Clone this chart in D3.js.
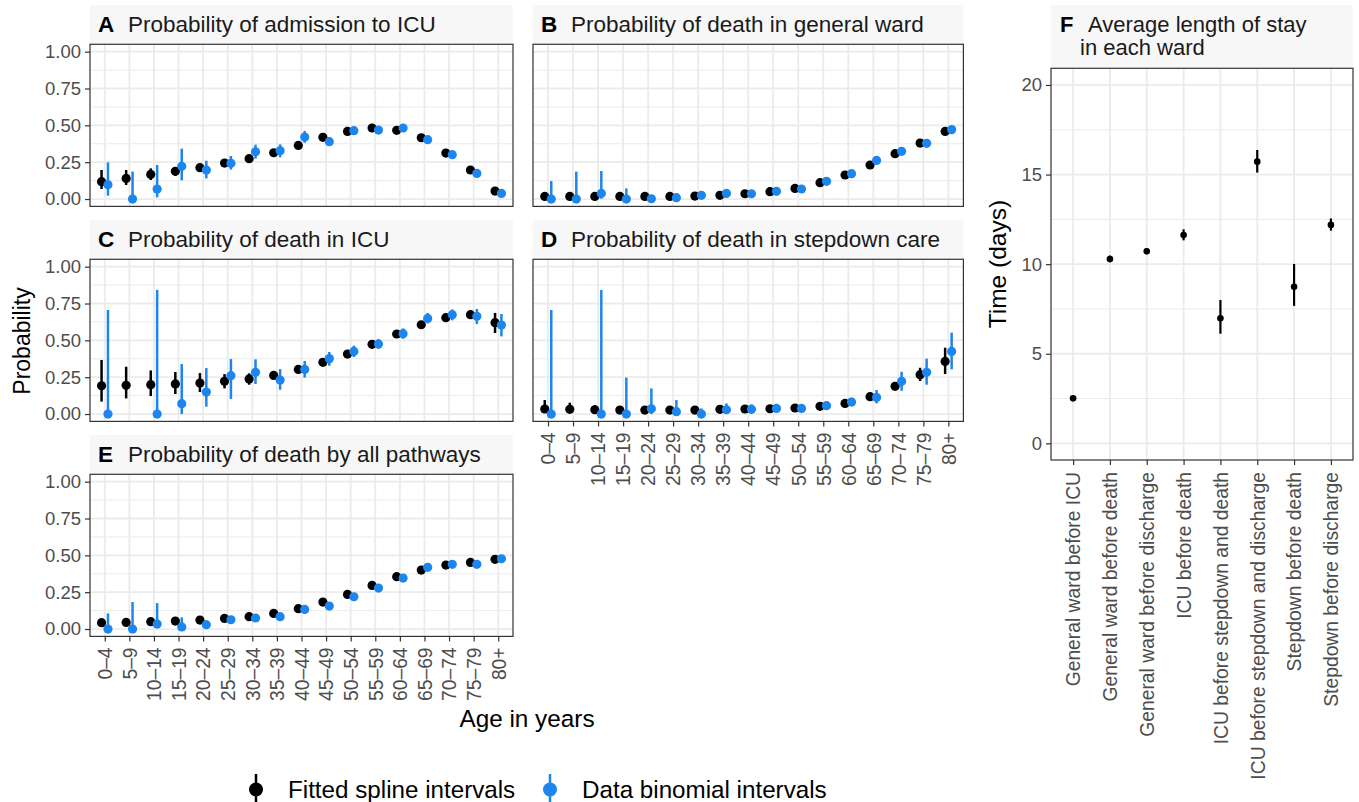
<!DOCTYPE html>
<html>
<head>
<meta charset="utf-8">
<script src="https://cdn.jsdelivr.net/npm/d3@7"></script>
<style>
  html, body { margin: 0; padding: 0; background: #fff; }
  svg { display: block; font-family: "Liberation Sans", Arial, Helvetica, sans-serif; }
</style>
</head>
<body>
<svg id="chart" width="1359" height="802"></svg>
<script>
// ---------------- DATA ----------------
const ageGroups = ["0–4","5–9","10–14","15–19","20–24","25–29","30–34","35–39","40–44","45–49","50–54","55–59","60–64","65–69","70–74","75–79","80+"];
const probTicks = [0, 0.25, 0.5, 0.75, 1];
const probMinor = [0.125, 0.375, 0.625, 0.875];

// A: Probability of admission to ICU
const aFitMid = [0.118,0.140,0.167,0.188,0.213,0.244,0.274,0.314,0.364,0.419,0.459,0.482,0.466,0.416,0.312,0.197,0.054];
const aFitLo  = [0.068,0.095,0.129,0.158,0.186,0.219,0.253,0.296,0.346,0.401,0.441,0.464,0.448,0.398,0.296,0.183,0.045];
const aFitHi  = [0.197,0.197,0.208,0.213,0.235,0.265,0.294,0.333,0.382,0.437,0.477,0.500,0.484,0.434,0.328,0.211,0.063];
const aDatMid = [0.097,0.000,0.068,0.222,0.197,0.242,0.321,0.328,0.421,0.389,0.464,0.468,0.482,0.403,0.301,0.174,0.038];
const aDatLo  = [0.023,0.000,0.011,0.127,0.140,0.200,0.274,0.283,0.382,0.360,0.446,0.450,0.464,0.385,0.283,0.158,0.027];
const aDatHi  = [0.249,0.186,0.231,0.342,0.260,0.292,0.369,0.371,0.462,0.419,0.482,0.486,0.500,0.421,0.319,0.190,0.049];

// B: Probability of death in general ward
const bFitMid = [0.018,0.018,0.018,0.018,0.018,0.018,0.020,0.025,0.036,0.050,0.072,0.111,0.163,0.231,0.308,0.380,0.459];
const bFitLo  = [0.012,0.012,0.012,0.012,0.013,0.014,0.016,0.021,0.032,0.045,0.067,0.105,0.157,0.225,0.301,0.373,0.451];
const bFitHi  = [0.026,0.025,0.024,0.024,0.023,0.022,0.024,0.029,0.040,0.055,0.077,0.117,0.169,0.237,0.315,0.387,0.467];
const bDatMid = [0.000,0.000,0.038,0.000,0.002,0.009,0.025,0.038,0.036,0.052,0.068,0.120,0.172,0.262,0.324,0.378,0.471];
const bDatLo  = [0.000,0.000,0.002,0.000,0.000,0.002,0.015,0.028,0.028,0.044,0.060,0.112,0.164,0.252,0.314,0.368,0.461];
const bDatHi  = [0.122,0.186,0.190,0.072,0.020,0.025,0.038,0.050,0.046,0.060,0.076,0.128,0.180,0.272,0.334,0.388,0.481];

// C: Probability of death in ICU
const cFitMid = [0.192,0.195,0.199,0.204,0.210,0.222,0.238,0.262,0.303,0.351,0.407,0.473,0.543,0.606,0.654,0.674,0.620];
const cFitLo  = [0.084,0.106,0.122,0.136,0.149,0.174,0.199,0.238,0.283,0.331,0.389,0.455,0.525,0.586,0.632,0.652,0.550];
const cFitHi  = [0.367,0.321,0.296,0.285,0.278,0.271,0.276,0.287,0.321,0.371,0.425,0.491,0.561,0.626,0.676,0.694,0.686];
const cDatMid = [0.000,null,0.000,0.070,0.149,0.260,0.283,0.231,0.303,0.376,0.425,0.475,0.545,0.649,0.674,0.663,0.604];
const cDatLo  = [0.000,null,0.000,0.000,0.050,0.102,0.204,0.165,0.247,0.328,0.387,0.443,0.511,0.615,0.636,0.611,0.527];
const cDatHi  = [0.706,null,0.842,0.339,0.312,0.373,0.371,0.305,0.360,0.421,0.464,0.509,0.581,0.686,0.710,0.713,0.679];

// D: Probability of death in stepdown care
const dFitMid = [0.034,0.032,0.029,0.027,0.027,0.027,0.027,0.032,0.034,0.036,0.041,0.052,0.072,0.118,0.188,0.267,0.357];
const dFitLo  = [0.011,0.011,0.009,0.009,0.011,0.015,0.017,0.024,0.027,0.030,0.035,0.046,0.061,0.102,0.168,0.224,0.271];
const dFitHi  = [0.095,0.077,0.061,0.050,0.045,0.040,0.038,0.041,0.042,0.043,0.048,0.059,0.083,0.134,0.208,0.314,0.450];
const dDatMid = [0.000,null,0.000,0.000,0.036,0.016,0.000,0.029,0.032,0.038,0.038,0.057,0.081,0.113,0.222,0.283,0.425];
const dDatLo  = [0.000,null,0.000,0.000,0.000,0.000,0.000,0.000,0.005,0.016,0.023,0.039,0.057,0.072,0.158,0.199,0.303];
const dDatHi  = [0.706,null,0.842,0.247,0.174,0.095,0.038,0.072,0.066,0.061,0.054,0.072,0.111,0.163,0.287,0.376,0.552];

// E: Probability of death by all pathways
const eFitMid = [0.043,0.045,0.050,0.054,0.061,0.072,0.084,0.106,0.138,0.183,0.235,0.296,0.355,0.400,0.434,0.452,0.473];
const eFitLo  = [0.025,0.033,0.040,0.046,0.054,0.066,0.078,0.100,0.132,0.177,0.229,0.290,0.349,0.394,0.428,0.446,0.467];
const eFitHi  = [0.068,0.060,0.062,0.063,0.069,0.079,0.090,0.112,0.144,0.189,0.241,0.302,0.361,0.406,0.440,0.458,0.479];
const eDatMid = [0.000,0.000,0.034,0.014,0.029,0.063,0.075,0.084,0.133,0.156,0.219,0.278,0.346,0.419,0.439,0.439,0.477];
const eDatLo  = [0.000,0.000,0.005,0.000,0.007,0.045,0.059,0.068,0.119,0.143,0.205,0.264,0.332,0.405,0.425,0.425,0.463];
const eDatHi  = [0.106,0.183,0.176,0.079,0.060,0.085,0.092,0.100,0.149,0.171,0.234,0.292,0.360,0.433,0.453,0.453,0.491];

// F: Average length of stay in each ward
const wards = ["General ward before ICU","General ward before death","General ward before discharge","ICU before death","ICU before stepdown and death","ICU before stepdown and discharge","Stepdown before death","Stepdown before discharge"];
const stayMean = [2.51,10.29,10.72,11.63,6.98,15.72,8.74,12.19];
const stayLo   = [2.44,10.10,10.55,11.33,6.12,15.11,7.67,11.87];
const stayHi   = [2.58,10.48,10.90,11.94,8.00,16.37,10.01,12.55];
const stayTicks = [0, 5, 10, 15, 20];
const stayMinor = [2.5, 7.5, 12.5, 17.5];

const legendLabels = ["Fitted spline intervals", "Data binomial intervals"];

// ---------------- STYLE ----------------
const BLUE = "#1C86EE";
const FIT = "#000000";
const GRID = "#EBEBEB";
const STRIP = "#F7F7F7";
const BORDER = "#333333";
const TICKTXT = "#4D4D4D";

const svg = d3.select("#chart");

const panels = [
  {tag:"A", title:"Probability of admission to ICU", x0:90, x1:513, y0:44.3, y1:206.4, yAxis:true, xAxis:false,
   fit:[aFitMid,aFitLo,aFitHi], dat:[aDatMid,aDatLo,aDatHi]},
  {tag:"B", title:"Probability of death in general ward", x0:533, x1:963.4, y0:44.3, y1:206.4, yAxis:false, xAxis:false,
   fit:[bFitMid,bFitLo,bFitHi], dat:[bDatMid,bDatLo,bDatHi]},
  {tag:"C", title:"Probability of death in ICU", x0:90, x1:513, y0:259.3, y1:421.4, yAxis:true, xAxis:false,
   fit:[cFitMid,cFitLo,cFitHi], dat:[cDatMid,cDatLo,cDatHi]},
  {tag:"D", title:"Probability of death in stepdown care", x0:533, x1:963.4, y0:259.3, y1:421.4, yAxis:false, xAxis:true,
   fit:[dFitMid,dFitLo,dFitHi], dat:[dDatMid,dDatLo,dDatHi]},
  {tag:"E", title:"Probability of death by all pathways", x0:90, x1:513, y0:474.3, y1:636.4, yAxis:true, xAxis:true,
   fit:[eFitMid,eFitLo,eFitHi], dat:[eDatMid,eDatLo,eDatHi]}
];

function drawStrip(x0, x1, top, bottom) {
  svg.append("rect").attr("x", x0).attr("y", top).attr("width", x1 - x0).attr("height", bottom - top)
    .attr("fill", STRIP);
}

panels.forEach(p => {
  const x = d3.scalePoint().domain(ageGroups).range([p.x0, p.x1]).padding(0.6);
  const y = d3.scaleLinear().domain([-0.05, 1.05]).range([p.y1, p.y0]);
  const dodge = x.step() * 0.13;

  drawStrip(p.x0, p.x1, p.y0 - 39.3, p.y0);
  const st = svg.append("text").attr("x", p.x0 + 8).attr("y", p.y0 - 12.5)
    .attr("font-size", 22.5).attr("fill", "#1A1A1A");
  st.append("tspan").attr("font-weight", "bold").attr("fill", "#000").text(p.tag);
  st.append("tspan").attr("x", p.x0 + 38).text(p.title);

  const g = svg.append("g");
  g.append("rect").attr("x", p.x0).attr("y", p.y0).attr("width", p.x1 - p.x0).attr("height", p.y1 - p.y0).attr("fill", "#fff");
  g.selectAll(".minor").data(probMinor).join("line")
    .attr("x1", p.x0).attr("x2", p.x1).attr("y1", d => y(d)).attr("y2", d => y(d))
    .attr("stroke", GRID).attr("stroke-width", 1);
  g.selectAll(".major").data(probTicks).join("line")
    .attr("x1", p.x0).attr("x2", p.x1).attr("y1", d => y(d)).attr("y2", d => y(d))
    .attr("stroke", GRID).attr("stroke-width", 1.8);
  g.selectAll(".vmajor").data(ageGroups).join("line")
    .attr("x1", d => x(d)).attr("x2", d => x(d)).attr("y1", p.y0).attr("y2", p.y1)
    .attr("stroke", GRID).attr("stroke-width", 1.8);

  const fitRows = ageGroups.map((a, i) => ({a, m: p.fit[0][i], lo: p.fit[1][i], hi: p.fit[2][i]}));
  const datRows = ageGroups.map((a, i) => ({a, m: p.dat[0][i], lo: p.dat[1][i], hi: p.dat[2][i]})).filter(d => d.m !== null);

  g.selectAll(".fitbar").data(fitRows).join("line")
    .attr("x1", d => x(d.a) - dodge).attr("x2", d => x(d.a) - dodge)
    .attr("y1", d => y(d.lo)).attr("y2", d => y(d.hi))
    .attr("stroke", FIT).attr("stroke-width", 2.5);
  g.selectAll(".fitpt").data(fitRows).join("circle")
    .attr("cx", d => x(d.a) - dodge).attr("cy", d => y(d.m)).attr("r", 4.6).attr("fill", FIT);
  g.selectAll(".datbar").data(datRows).join("line")
    .attr("x1", d => x(d.a) + dodge).attr("x2", d => x(d.a) + dodge)
    .attr("y1", d => y(d.lo)).attr("y2", d => y(d.hi))
    .attr("stroke", BLUE).attr("stroke-width", 2.5);
  g.selectAll(".datpt").data(datRows).join("circle")
    .attr("cx", d => x(d.a) + dodge).attr("cy", d => y(d.m)).attr("r", 4.6).attr("fill", BLUE);

  g.append("rect").attr("x", p.x0).attr("y", p.y0).attr("width", p.x1 - p.x0).attr("height", p.y1 - p.y0)
    .attr("fill", "none").attr("stroke", BORDER).attr("stroke-width", 1.2);

  if (p.yAxis) {
    const ax = svg.append("g").attr("transform", `translate(${p.x0},0)`)
      .call(d3.axisLeft(y).tickValues(probTicks).tickFormat(d3.format(".2f")).tickSize(5).tickPadding(4));
    ax.select(".domain").remove();
    ax.selectAll(".tick line").attr("stroke", BORDER).attr("stroke-width", 1.2);
    ax.selectAll(".tick text").attr("font-size", 18.5).attr("fill", TICKTXT).attr("font-family", null);
  }
  if (p.xAxis) {
    const ax = svg.append("g").attr("transform", `translate(0,${p.y1})`)
      .call(d3.axisBottom(x).tickSize(5).tickPadding(6));
    ax.select(".domain").remove();
    ax.selectAll(".tick line").attr("stroke", BORDER).attr("stroke-width", 1.2);
    ax.selectAll(".tick text").attr("font-size", 19.3).attr("fill", TICKTXT).attr("font-family", null)
      .attr("transform", "rotate(-90)").attr("text-anchor", "end")
      .attr("x", -11).attr("y", 0).attr("dy", "0.35em");
  }
});

// Axis titles for probability panels
svg.append("text").attr("transform", "translate(30,341) rotate(-90)").attr("text-anchor", "middle")
  .attr("font-size", 23).attr("fill", "#000").text("Probability");
svg.append("text").attr("x", 527).attr("y", 727).attr("text-anchor", "middle")
  .attr("font-size", 24.3).attr("fill", "#000").text("Age in years");

// ---------------- PANEL F ----------------
{
  const x0 = 1051, x1 = 1353, y0 = 68.3, y1 = 460;
  const x = d3.scalePoint().domain(wards).range([x0, x1]).padding(0.6);
  const y = d3.scaleLinear().domain([-0.93, 20.93]).range([y1, y0]);

  drawStrip(x0, x1, 5, y0);
  const t1 = svg.append("text").attr("x", x0 + 9).attr("y", 31.5).attr("font-size", 22).attr("fill", "#1A1A1A");
  t1.append("tspan").attr("font-weight", "bold").attr("fill", "#000").text("F");
  t1.append("tspan").attr("x", x0 + 37).text("Average length of stay");
  svg.append("text").attr("x", x0 + 29).attr("y", 55).attr("font-size", 22).attr("fill", "#1A1A1A").text("in each ward");

  const g = svg.append("g");
  g.append("rect").attr("x", x0).attr("y", y0).attr("width", x1 - x0).attr("height", y1 - y0).attr("fill", "#fff");
  g.selectAll(".minor").data(stayMinor).join("line")
    .attr("x1", x0).attr("x2", x1).attr("y1", d => y(d)).attr("y2", d => y(d))
    .attr("stroke", GRID).attr("stroke-width", 1);
  g.selectAll(".major").data(stayTicks).join("line")
    .attr("x1", x0).attr("x2", x1).attr("y1", d => y(d)).attr("y2", d => y(d))
    .attr("stroke", GRID).attr("stroke-width", 1.8);
  g.selectAll(".vmajor").data(wards).join("line")
    .attr("x1", d => x(d)).attr("x2", d => x(d)).attr("y1", y0).attr("y2", y1)
    .attr("stroke", GRID).attr("stroke-width", 1.8);

  const rows = wards.map((w, i) => ({w, m: stayMean[i], lo: stayLo[i], hi: stayHi[i]}));
  g.selectAll(".bar").data(rows).join("line")
    .attr("x1", d => x(d.w)).attr("x2", d => x(d.w)).attr("y1", d => y(d.lo)).attr("y2", d => y(d.hi))
    .attr("stroke", "#000").attr("stroke-width", 2.2);
  g.selectAll(".pt").data(rows).join("circle")
    .attr("cx", d => x(d.w)).attr("cy", d => y(d.m)).attr("r", 3.3).attr("fill", "#000");

  g.append("rect").attr("x", x0).attr("y", y0).attr("width", x1 - x0).attr("height", y1 - y0)
    .attr("fill", "none").attr("stroke", BORDER).attr("stroke-width", 1.2);

  const ay = svg.append("g").attr("transform", `translate(${x0},0)`)
    .call(d3.axisLeft(y).tickValues(stayTicks).tickSize(5).tickPadding(4));
  ay.select(".domain").remove();
  ay.selectAll(".tick line").attr("stroke", BORDER).attr("stroke-width", 1.2);
  ay.selectAll(".tick text").attr("font-size", 18.5).attr("fill", TICKTXT).attr("font-family", null);

  const axb = svg.append("g").attr("transform", `translate(0,${y1})`)
    .call(d3.axisBottom(x).tickSize(5).tickPadding(6));
  axb.select(".domain").remove();
  axb.selectAll(".tick line").attr("stroke", BORDER).attr("stroke-width", 1.2);
  axb.selectAll(".tick text").attr("font-size", 19.3).attr("fill", TICKTXT).attr("font-family", null)
    .attr("transform", "rotate(-90)").attr("text-anchor", "end")
    .attr("x", -12).attr("y", 0).attr("dy", "0.35em");

  svg.append("text").attr("transform", `translate(1006,${(y0 + y1) / 2}) rotate(-90)`).attr("text-anchor", "middle")
    .attr("font-size", 24.5).attr("fill", "#000").text("Time (days)");
}

// ---------------- LEGEND ----------------
{
  const keys = [{c: FIT, x: 256, tx: 288}, {c: BLUE, x: 550, tx: 582}];
  const lg = svg.append("g");
  keys.forEach((k, i) => {
    lg.append("line").attr("x1", k.x).attr("x2", k.x).attr("y1", 774).attr("y2", 805)
      .attr("stroke", k.c).attr("stroke-width", 2.5);
    lg.append("circle").attr("cx", k.x).attr("cy", 789.5).attr("r", 7).attr("fill", k.c);
    lg.append("text").attr("x", k.tx).attr("y", 798).attr("font-size", 24.2).attr("fill", "#000").text(legendLabels[i]);
  });
}
</script>
</body>
</html>
